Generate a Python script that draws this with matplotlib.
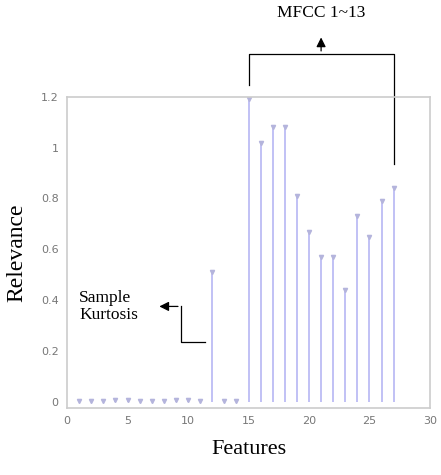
import matplotlib
matplotlib.use('Agg')
import matplotlib.pyplot as plt

features = list(range(1, 28))
relevance = [0.002, 0.002, 0.003, 0.005, 0.008, 0.004, 0.004, 0.002, 0.005, 0.008,
             0.004, 0.51, 0.004, 0.002,
             1.19, 1.02, 1.08, 1.08, 0.81, 0.67, 0.57, 0.57, 0.44, 0.73, 0.65, 0.79, 0.84]
x_ticks = [0, 5, 10, 15, 20, 25, 30]
y_ticks = [0, 0.2, 0.4, 0.6, 0.8, 1.0, 1.2]
y_tick_labels = ['0', '0.2', '0.4', '0.6', '0.8', '1', '1.2']

STEM = '#bcbcf4'
SERIF = 'Liberation Serif'

fig = plt.figure(figsize=(4.41, 4.75), dpi=100)
ax = fig.add_axes([0.152, 0.141, 0.823, 0.655])

markerline, stemlines, baseline = ax.stem(features, relevance, basefmt=' ')
plt.setp(stemlines, color=STEM, linewidth=1.3)
plt.setp(markerline, marker='v', markersize=3, color='#b4b4dc')

ax.set_xlim(0, 30)
ax.set_ylim(-0.025, 1.2)
ax.set_xticks(x_ticks)
ax.set_yticks(y_ticks)
ax.set_yticklabels(y_tick_labels)
ax.tick_params(length=0, labelsize=8, labelcolor='#777777', pad=6)
for s in ax.spines.values():
    s.set_color('#cccccc')
    s.set_linewidth(1.2)

ax.set_xlabel('Features', fontsize=16, family=SERIF, labelpad=10)
ax.set_ylabel('Relevance', fontsize=17, family=SERIF, labelpad=10)

# MFCC bracket
ax.plot([15, 15, 27, 27], [1.247, 1.37, 1.37, 0.936], color='black', lw=0.9, clip_on=False)
ax.annotate('', xy=(21, 1.445), xytext=(21, 1.37), annotation_clip=False,
            arrowprops=dict(arrowstyle='-|>', color='black', lw=0.9, mutation_scale=14))
ax.text(21, 1.53, 'MFCC 1~13', ha='center', va='center', fontsize=12.5, family=SERIF,
        clip_on=False)

# Sample Kurtosis bracket
ax.plot([11.4, 9.4, 9.4], [0.233, 0.233, 0.375], color='black', lw=0.9)
ax.annotate('', xy=(7.4, 0.375), xytext=(9.4, 0.375),
            arrowprops=dict(arrowstyle='-|>', color='black', lw=0.9, mutation_scale=14))
ax.text(1.0, 0.375, 'Sample\nKurtosis', ha='left', va='center', fontsize=12.5,
        family=SERIF, linespacing=1.05)

fig.savefig('out.png', dpi=100)
